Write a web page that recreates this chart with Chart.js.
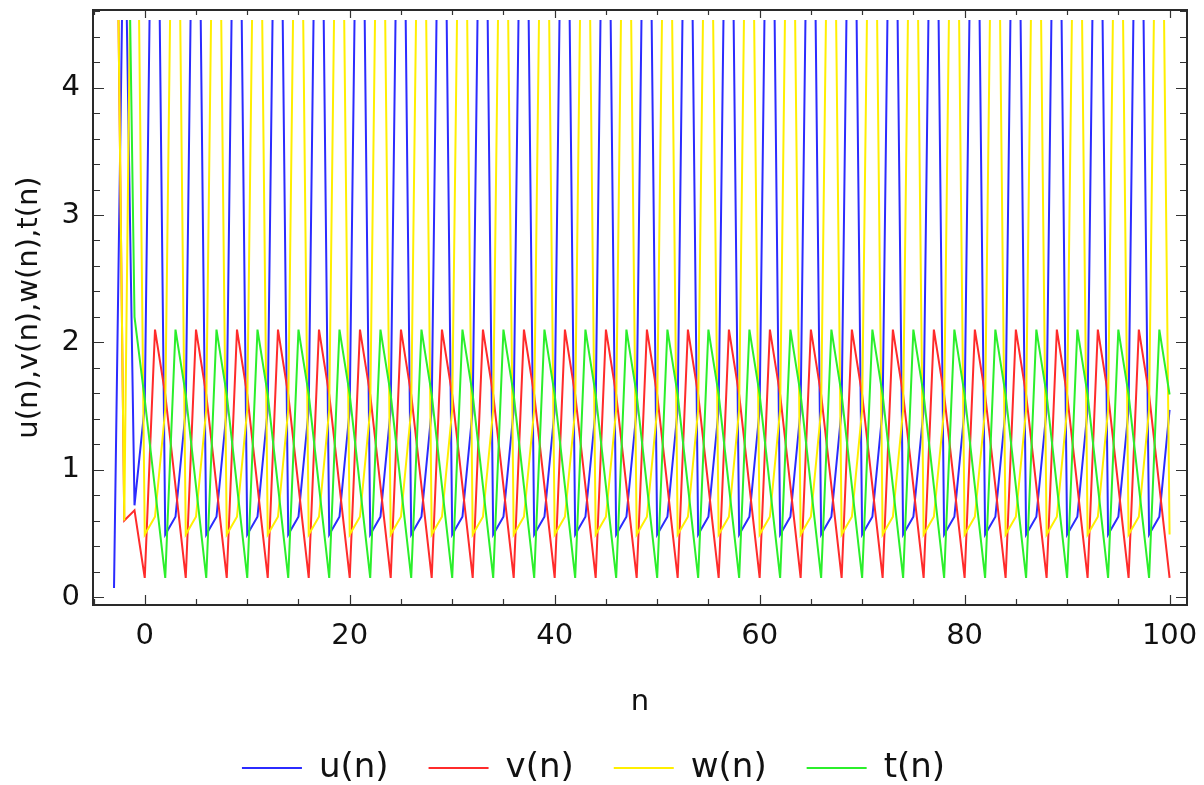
<!DOCTYPE html>
<html><head><meta charset="utf-8">
<script src="https://cdn.jsdelivr.net/npm/chart.js@4.4.1/dist/chart.umd.min.js"></script>
<style>html,body{margin:0;padding:0;background:#fff}canvas{display:block}</style>
</head><body>
<canvas id="c" width="1204" height="785"></canvas>
<script>
// n values (x categories)
const nVals = [-3,-2,-1,
0,1,2,3,4,5,6,7,8,9,10,11,12,13,14,15,16,17,18,19,20,21,22,23,24,25,26,27,28,29,30,31,32,33,34,35,36,37,38,39,
40,41,42,43,44,45,46,47,48,49,50,51,52,53,54,55,56,57,58,59,60,61,62,63,64,65,66,67,68,69,70,71,72,73,74,75,76,77,78,79,
80,81,82,83,84,85,86,87,88,89,90,91,92,93,94,95,96,97,98,99,100];

// u(n)
const uVals = [0.07,5.8,0.72,
1.5,8.0,0.49,0.63, 1.47,8.0,0.49,0.63, 1.47,8.0,0.49,0.63, 1.47,8.0,0.49,0.63, 1.47,8.0,0.49,0.63,
1.47,8.0,0.49,0.63, 1.47,8.0,0.49,0.63, 1.47,8.0,0.49,0.63, 1.47,8.0,0.49,0.63, 1.47,8.0,0.49,0.63,
1.47,8.0,0.49,0.63, 1.47,8.0,0.49,0.63, 1.47,8.0,0.49,0.63, 1.47,8.0,0.49,0.63, 1.47,8.0,0.49,0.63,
1.47,8.0,0.49,0.63, 1.47,8.0,0.49,0.63, 1.47,8.0,0.49,0.63, 1.47,8.0,0.49,0.63, 1.47,8.0,0.49,0.63,
1.47,8.0,0.49,0.63, 1.47,8.0,0.49,0.63, 1.47,8.0,0.49,0.63, 1.47,8.0,0.49,0.63, 1.47,8.0,0.49,0.63,
1.47];

// v(n)
const vVals = [7.6,0.6,0.68,
0.15,2.1,1.59,0.87, 0.15,2.1,1.59,0.87, 0.15,2.1,1.59,0.87, 0.15,2.1,1.59,0.87, 0.15,2.1,1.59,0.87,
0.15,2.1,1.59,0.87, 0.15,2.1,1.59,0.87, 0.15,2.1,1.59,0.87, 0.15,2.1,1.59,0.87, 0.15,2.1,1.59,0.87,
0.15,2.1,1.59,0.87, 0.15,2.1,1.59,0.87, 0.15,2.1,1.59,0.87, 0.15,2.1,1.59,0.87, 0.15,2.1,1.59,0.87,
0.15,2.1,1.59,0.87, 0.15,2.1,1.59,0.87, 0.15,2.1,1.59,0.87, 0.15,2.1,1.59,0.87, 0.15,2.1,1.59,0.87,
0.15,2.1,1.59,0.87, 0.15,2.1,1.59,0.87, 0.15,2.1,1.59,0.87, 0.15,2.1,1.59,0.87, 0.15,2.1,1.59,0.87,
0.15];

// w(n)
const wVals = [7.6,0.6,7.8,
0.49,0.63,1.47,8.0, 0.49,0.63,1.47,8.0, 0.49,0.63,1.47,8.0, 0.49,0.63,1.47,8.0, 0.49,0.63,1.47,8.0,
0.49,0.63,1.47,8.0, 0.49,0.63,1.47,8.0, 0.49,0.63,1.47,8.0, 0.49,0.63,1.47,8.0, 0.49,0.63,1.47,8.0,
0.49,0.63,1.47,8.0, 0.49,0.63,1.47,8.0, 0.49,0.63,1.47,8.0, 0.49,0.63,1.47,8.0, 0.49,0.63,1.47,8.0,
0.49,0.63,1.47,8.0, 0.49,0.63,1.47,8.0, 0.49,0.63,1.47,8.0, 0.49,0.63,1.47,8.0, 0.49,0.63,1.47,8.0,
0.49,0.63,1.47,8.0, 0.49,0.63,1.47,8.0, 0.49,0.63,1.47,8.0, 0.49,0.63,1.47,8.0, 0.49,0.63,1.47,8.0,
0.49];

// t(n)
const tVals = [7.5,7.7,2.2,
1.55,0.85,0.15,2.1, 1.59,0.87,0.15,2.1, 1.59,0.87,0.15,2.1, 1.59,0.87,0.15,2.1, 1.59,0.87,0.15,2.1,
1.59,0.87,0.15,2.1, 1.59,0.87,0.15,2.1, 1.59,0.87,0.15,2.1, 1.59,0.87,0.15,2.1, 1.59,0.87,0.15,2.1,
1.59,0.87,0.15,2.1, 1.59,0.87,0.15,2.1, 1.59,0.87,0.15,2.1, 1.59,0.87,0.15,2.1, 1.59,0.87,0.15,2.1,
1.59,0.87,0.15,2.1, 1.59,0.87,0.15,2.1, 1.59,0.87,0.15,2.1, 1.59,0.87,0.15,2.1, 1.59,0.87,0.15,2.1,
1.59,0.87,0.15,2.1, 1.59,0.87,0.15,2.1, 1.59,0.87,0.15,2.1, 1.59,0.87,0.15,2.1, 1.59,0.87,0.15,2.1,
1.59];

// tick labels
const xTickVals = [0, 20, 40, 60, 80, 100];
const yTickVals = [0, 1, 2, 3, 4];
const seriesLabels = ['u(n)', 'v(n)', 'w(n)', 't(n)'];

Chart.defaults.font.family = "'DejaVu Sans', sans-serif";
Chart.defaults.color = '#111';

const framePlugin = {
  id: 'frame',
  afterDatasetsDraw(chart) {
    const {ctx, chartArea: a, scales: {x, y}} = chart;
    ctx.save();
    ctx.strokeStyle = '#333';
    ctx.lineWidth = 1.2;
    ctx.beginPath();
    for (let v = -5; v <= x.max; v += 5) {
      const px = Math.round(x.getPixelForValue(v)) + 0.5;
      if (px <= a.left + 1 || px >= a.right - 1) continue;
      const major = xTickVals.includes(v);
      const lb = major ? 10 : 6, lt = major ? 8 : 5;
      ctx.moveTo(px, a.bottom); ctx.lineTo(px, a.bottom - lb);
      ctx.moveTo(px, a.top); ctx.lineTo(px, a.top + lt);
    }
    for (let i = 0; i <= 23; i++) {
      const v = i * 0.2;
      if (v > y.max) break;
      const py = Math.round(y.getPixelForValue(v)) + 0.5;
      if (py <= a.top + 1) continue;
      const major = i % 5 === 0;
      const l = major ? 11 : 7;
      ctx.moveTo(a.left, py); ctx.lineTo(a.left + l, py);
      ctx.moveTo(a.right, py); ctx.lineTo(a.right - l, py);
    }
    ctx.stroke();
    ctx.lineWidth = 2;
    ctx.strokeStyle = '#2a2a2a';
    ctx.strokeRect(a.left, a.top, a.right - a.left, a.bottom - a.top);
    ctx.restore();
  }
};

const clipBox = {left: 0, top: -10, right: 0, bottom: 0};
const mk = (label, vals, color, order) => ({
  label,
  data: nVals.map((n, i) => ({x: n, y: vals[i]})),
  borderColor: color,
  backgroundColor: color,
  borderWidth: 2,
  pointRadius: 0,
  tension: 0,
  fill: false,
  order,
  clip: clipBox
});

new Chart(document.getElementById('c'), {
  type: 'line',
  data: {
    datasets: [
      mk(seriesLabels[0], uVals, '#2b2bff', 4),
      mk(seriesLabels[1], vVals, '#ff2b2b', 3),
      mk(seriesLabels[2], wVals, '#ffef00', 2),
      mk(seriesLabels[3], tVals, '#2bef2b', 1)
    ]
  },
  options: {
    responsive: false,
    animation: false,
    events: [],
    layout: {padding: {top: 10, right: 17, left: 0, bottom: -10}},
    plugins: {
      legend: {
        position: 'bottom',
        labels: {
          usePointStyle: true,
          pointStyle: 'line',
          pointStyleWidth: 60,
          padding: 40,
          font: {size: 34},
          color: '#111',
          sort: (a, b) => a.datasetIndex - b.datasetIndex
        }
      },
      tooltip: {enabled: false}
    },
    scales: {
      x: {
        type: 'linear',
        min: -5.05,
        max: 101.7,
        afterBuildTicks: s => { s.ticks = xTickVals.map(v => ({value: v})); },
        afterFit: s => { s.height = 106; s.paddingLeft = 0; s.paddingRight = 0; },
        grid: {display: false, drawTicks: false},
        border: {display: false},
        ticks: {padding: 14, font: {size: 29}, color: '#111', maxRotation: 0},
        title: {display: true, text: 'n', font: {size: 29}, color: '#111', padding: {top: 0, bottom: -9}}
      },
      y: {
        type: 'linear',
        min: -0.063,
        max: 4.61,
        afterBuildTicks: s => { s.ticks = yTickVals.map(v => ({value: v})); },
        afterFit: s => { s.width = 93; s.paddingTop = 0; s.paddingBottom = 0; },
        grid: {display: false, drawTicks: false},
        border: {display: false},
        ticks: {padding: 13, font: {size: 29}, color: '#111'},
        title: {display: true, text: 'u(n),v(n),w(n),t(n)', font: {size: 29}, color: '#111', padding: {top: 12, bottom: 0}}
      }
    }
  },
  plugins: [framePlugin]
});
</script>
</body></html>
